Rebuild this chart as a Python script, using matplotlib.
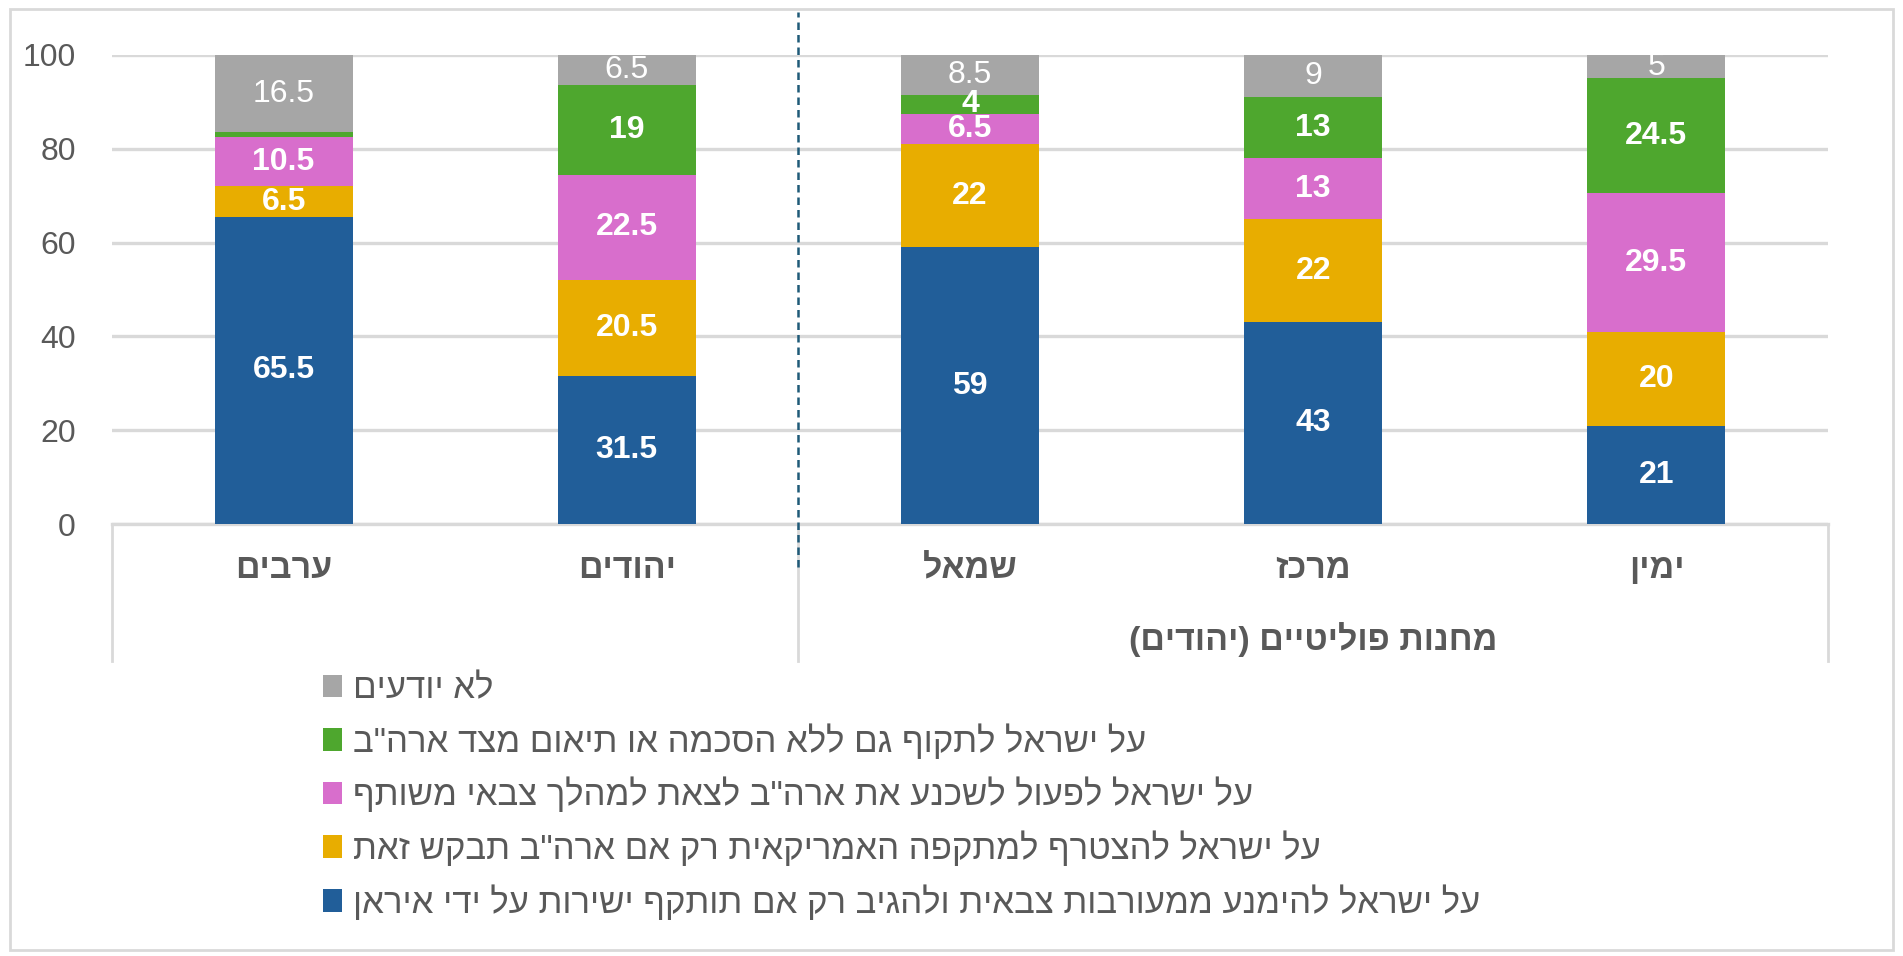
import matplotlib
matplotlib.use("Agg")
import matplotlib.pyplot as plt
import numpy as np
from matplotlib.patches import Rectangle
from matplotlib.lines import Line2D

plt.rcParams['font.family'] = ['Liberation Sans', 'DejaVu Sans']


def rtl(s):
    # matplotlib has no bidi support: flip the string and mirror brackets
    return s[::-1].translate(str.maketrans("()", ")("))


categories = ["ערבים", "יהודים", "שמאל", "מרכז", "ימין"]
group_label = "מחנות פוליטיים (יהודים)"
series_names = [
    "על ישראל להימנע ממעורבות צבאית ולהגיב רק אם תותקף ישירות על ידי איראן",
    "על ישראל להצטרף למתקפה האמריקאית רק אם ארה\"ב תבקש זאת",
    "על ישראל לפעול לשכנע את ארה\"ב לצאת למהלך צבאי משותף",
    "על ישראל לתקוף גם ללא הסכמה או תיאום מצד ארה\"ב",
    "לא יודעים",
]
avoid = [65.5, 31.5, 59, 43, 21]
join_if_asked = [6.5, 20.5, 22, 22, 20]
persuade = [10.5, 22.5, 6.5, 13, 29.5]
attack_anyway = [1, 19, 4, 13, 24.5]
dont_know = [16.5, 6.5, 8.5, 9, 5]
yticks = [0, 20, 40, 60, 80, 100]

series = [avoid, join_if_asked, persuade, attack_anyway, dont_know]
colors = ["#215E99", "#E8AD00", "#D86ECC", "#4EA72E", "#A6A6A6"]
text_gray = "#595959"
grid_gray = "#D9D9D9"

W, H = 1903, 956
fig = plt.figure(figsize=(W / 100, H / 100), dpi=100)
ax = fig.add_axes([112 / W, 1 - 524 / H, (1828 - 112) / W, (524 - 55) / H])

x = np.arange(len(categories))
bottom = np.zeros(len(categories))
handles = []
for i, (vals, col) in enumerate(zip(series, colors)):
    vals = np.array(vals, dtype=float)
    bars = ax.bar(x, vals, 0.402, bottom=bottom, color=col, zorder=3)
    handles.append(bars)
    for xi, v, b in zip(x, vals, bottom):
        if v < 2:
            continue
        is_gray = i == len(series) - 1
        ax.text(xi, b + v / 2, f"{v:g}", ha="center", va="center",
                color="white", fontsize=23,
                fontweight="normal" if is_gray else "bold", zorder=4)
    bottom += vals

ax.set_xlim(-0.5, len(categories) - 0.5)
ax.set_ylim(0, 100)
ax.set_yticks(yticks)
ax.tick_params(axis="y", length=0, labelsize=23, labelcolor=text_gray, pad=26)
ax.tick_params(axis="x", length=0, labelbottom=False)
ax.yaxis.grid(True, color=grid_gray, linewidth=2.4, zorder=0)
for side in ["left", "right", "top"]:
    ax.spines[side].set_visible(False)
ax.spines["bottom"].set_color(grid_gray)
ax.spines["bottom"].set_linewidth(2.4)

# category table below the axis
tr = ax.get_xaxis_transform()
for xb in [-0.5, 1.5, len(categories) - 0.5]:
    ax.add_line(Line2D([xb, xb], [0, -0.292], transform=tr, color=grid_gray,
                       linewidth=2, clip_on=False))
for xi, name in zip(x, categories):
    ax.text(xi, -0.098, rtl(name), transform=tr, ha="center", va="center",
            fontsize=24.5, fontweight="bold", color=text_gray)
ax.text(3, -0.247, rtl(group_label), transform=tr, ha="center", va="center",
        fontsize=24.5, fontweight="bold", color=text_gray)

# dashed separator between populations and political camps
ax.add_line(Line2D([1.5, 1.5], [-0.092, 1.092], transform=tr, color="#1F5A78",
                   linewidth=1.8, linestyle=(0, (3, 2)), clip_on=False, zorder=5))

# legend, top entry first
leg = fig.legend(handles[::-1], [rtl(s) for s in series_names[::-1]],
                 loc="upper left", bbox_to_anchor=(323 / W, 1 - 672 / H),
                 frameon=False, fontsize=25, labelcolor=text_gray,
                 handlelength=0.55, handleheight=0.62, handletextpad=0.3,
                 labelspacing=0.52, borderpad=0, borderaxespad=0)

# chart border
fig.patches.append(Rectangle((10 / W, 6 / H), (1893 - 10) / W, (947 - 6) / H,
                             transform=fig.transFigure, fill=False,
                             edgecolor=grid_gray, linewidth=2))

fig.savefig("out.png", dpi=100)
